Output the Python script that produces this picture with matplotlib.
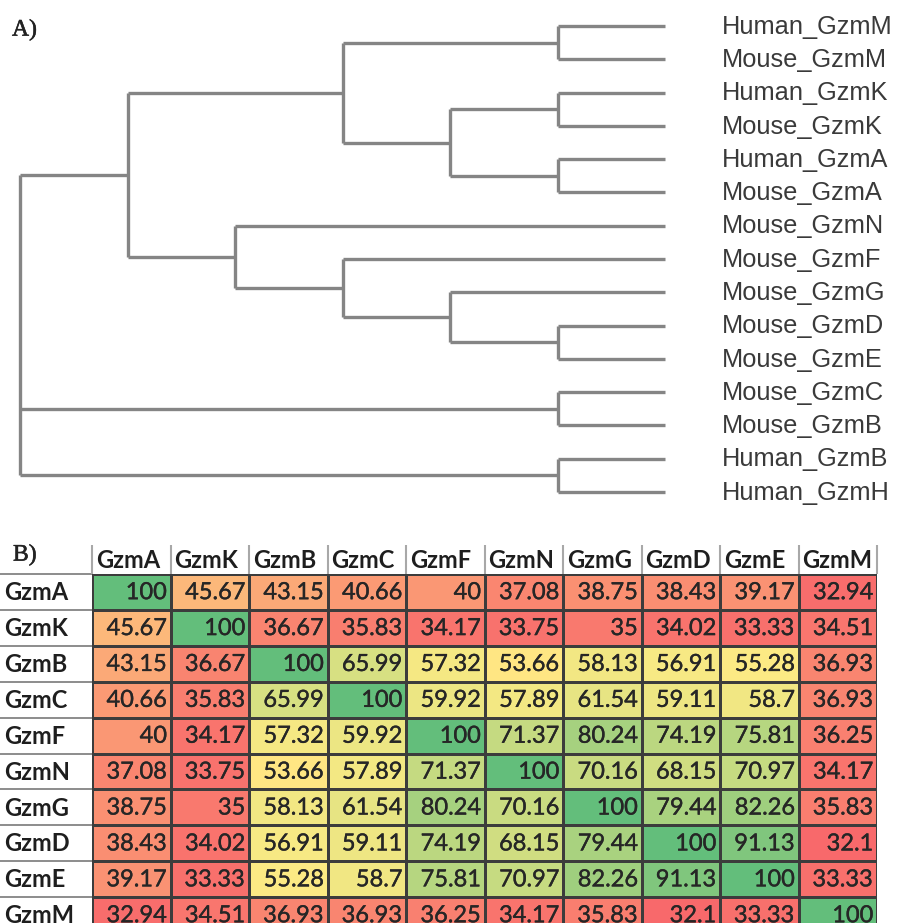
import numpy as np
import matplotlib
matplotlib.use("Agg")
import matplotlib.pyplot as plt
import matplotlib.patheffects as pe
from matplotlib.colors import LinearSegmentedColormap, TwoSlopeNorm

# ---------------- data ----------------
leaf_labels = ["Human_GzmM", "Mouse_GzmM", "Human_GzmK", "Mouse_GzmK",
               "Human_GzmA", "Mouse_GzmA", "Mouse_GzmN", "Mouse_GzmF",
               "Mouse_GzmG", "Mouse_GzmD", "Mouse_GzmE", "Mouse_GzmC",
               "Mouse_GzmB", "Human_GzmB", "Human_GzmH"]
leaf_level = 6
# internal nodes: (children ids, level); leaves are ids 0..14, nodes from 15
tree_children = [(0, 1), (2, 3), (4, 5), (16, 17), (15, 18),
                 (9, 10), (8, 20), (7, 21), (6, 22), (19, 23),
                 (11, 12), (13, 14), (24, 25, 26)]
tree_levels = [5, 5, 5, 4, 3, 5, 4, 3, 2, 1, 5, 5, 0]

genes = ["GzmA", "GzmK", "GzmB", "GzmC", "GzmF", "GzmN", "GzmG", "GzmD", "GzmE", "GzmM"]
row_A = [100, 45.67, 43.15, 40.66, 40, 37.08, 38.75, 38.43, 39.17, 32.94]
row_K = [45.67, 100, 36.67, 35.83, 34.17, 33.75, 35, 34.02, 33.33, 34.51]
row_B = [43.15, 36.67, 100, 65.99, 57.32, 53.66, 58.13, 56.91, 55.28, 36.93]
row_C = [40.66, 35.83, 65.99, 100, 59.92, 57.89, 61.54, 59.11, 58.7, 36.93]
row_F = [40, 34.17, 57.32, 59.92, 100, 71.37, 80.24, 74.19, 75.81, 36.25]
row_N = [37.08, 33.75, 53.66, 57.89, 71.37, 100, 70.16, 68.15, 70.97, 34.17]
row_G = [38.75, 35, 58.13, 61.54, 80.24, 70.16, 100, 79.44, 82.26, 35.83]
row_D = [38.43, 34.02, 56.91, 59.11, 74.19, 68.15, 79.44, 100, 91.13, 32.1]
row_E = [39.17, 33.33, 55.28, 58.7, 75.81, 70.97, 82.26, 91.13, 100, 33.33]
row_M = [32.94, 34.51, 36.93, 36.93, 36.25, 34.17, 35.83, 32.1, 33.33, 100]

# ---------------- figure ----------------
W, H = 897, 923
fig = plt.figure(figsize=(W / 100, H / 100), dpi=100)
fig.patch.set_facecolor("white")


def px_axes(left, top, right, bottom):
    return fig.add_axes([left / W, 1 - bottom / H, (right - left) / W, (bottom - top) / H])


thin = [pe.withStroke(linewidth=0.25, foreground="#262626")]

# ---------------- A) dendrogram ----------------
axd = px_axes(20, 26, 665, 492)
axd.set_xlim(0, leaf_level)
axd.set_ylim(len(leaf_labels) - 1, 0)
axd.axis("off")

line_kw = dict(color="#858585", lw=2.4, solid_capstyle="butt", clip_on=False)
ypos = {i: float(i) for i in range(len(leaf_labels))}
xpos = {i: float(leaf_level) for i in range(len(leaf_labels))}
n_leaves = len(leaf_labels)
for k, (ch, lev) in enumerate(zip(tree_children, tree_levels)):
    nid = n_leaves + k
    ys = [ypos[c] for c in ch]
    for c in ch:
        axd.plot([lev, xpos[c]], [ypos[c], ypos[c]], **line_kw)
    axd.plot([lev, lev], [min(ys), max(ys)], **line_kw)
    ypos[nid] = (min(ys) + max(ys)) / 2.0
    xpos[nid] = float(lev)

for i, lab in enumerate(leaf_labels):
    axd.text(leaf_level + 57 / 107.5, i + 0.02, lab, ha="left", va="center",
             fontsize=18.3, family="Liberation Sans", color="#3a3a3a", clip_on=False)

fig.text(12 / W, 1 - 30 / H, "A)", fontsize=17, family="Liberation Serif",
         color="#222222", ha="left", va="center",
         path_effects=[pe.withStroke(linewidth=0.4, foreground="#222222")])

# ---------------- B) heatmap table ----------------
data = np.array([row_A, row_K, row_B, row_C, row_F, row_N, row_G, row_D, row_E, row_M])
nrow, ncol = data.shape
row_h = 35.9
axh = px_axes(92, 574, 877, 574 + nrow * row_h)
axh.set_xlim(0, ncol)
axh.set_ylim(nrow, 0)
axh.axis("off")

cmap = LinearSegmentedColormap.from_list("excel3", ["#F8696B", "#FFEB84", "#63BE7B"])
norm = TwoSlopeNorm(vmin=data.min(), vcenter=np.median(data), vmax=data.max())
axh.pcolormesh(np.arange(ncol + 1), np.arange(nrow + 1), data, cmap=cmap, norm=norm,
               edgecolors="#3c3c3c", linewidth=0.9)

col_w = 785 / ncol
for r in range(nrow):
    for c in range(ncol):
        v = data[r, c]
        s = f"{v:g}"
        axh.text(c + 1 - 3.5 / col_w, r + 0.52, s, ha="right", va="center",
                 fontsize=17, family="Lato", color="#262626", path_effects=thin)

# row labels and separators in label column
lab_x0 = -92 / col_w
for r, g in enumerate(genes):
    axh.text(lab_x0 + 4 / col_w, r + 0.52, g, ha="left", va="center",
             fontsize=17, family="Lato", fontweight="bold", color="#1e1e1e", clip_on=False)
for r in range(nrow + 1):
    axh.plot([lab_x0, 0], [r, r], color="#8c8c8c", lw=1.4, clip_on=False,
             solid_capstyle="butt")

# header row
head_top = -(574 - 545) / row_h
for c, g in enumerate(genes):
    axh.text(c + 4 / col_w, head_top / 2 + 0.02, g, ha="left", va="center",
             fontsize=17, family="Lato", fontweight="bold", color="#1e1e1e", clip_on=False)
for c in range(ncol + 1):
    axh.plot([c, c], [head_top, 0], color="#a8a8a8", lw=1.5, clip_on=False,
             solid_capstyle="butt")

fig.text(13 / W, 1 - 555 / H, "B)", fontsize=17, family="Liberation Serif",
         color="#222222", ha="left", va="center",
         path_effects=[pe.withStroke(linewidth=0.4, foreground="#222222")])

fig.savefig("out.png", dpi=100, facecolor="white")
